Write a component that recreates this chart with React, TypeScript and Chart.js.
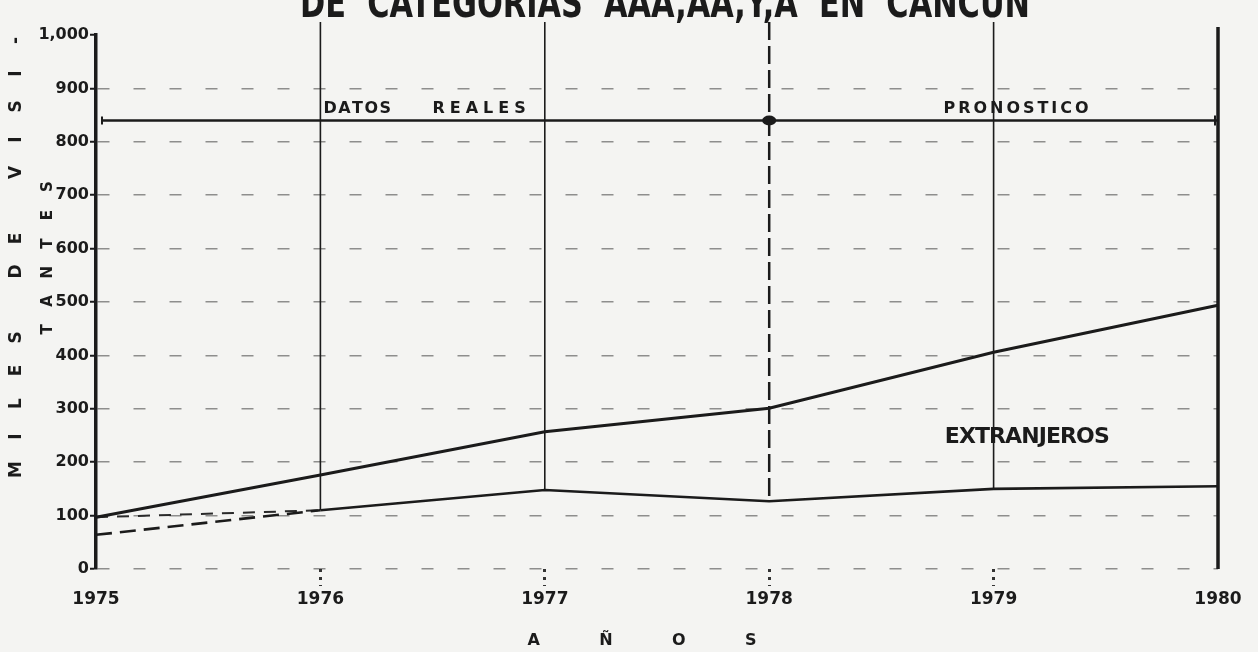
import React, { useEffect, useRef } from "react";
import { Chart, registerables } from "chart.js";

Chart.register(...registerables);

const years = ["1975", "1976", "1977", "1978", "1979", "1980"];
const totalVisitors = [97, 176, 257, 301, 406, 494];
const foreignVisitors = [64, 110, 148, 127, 150, 155];
const foreignAlt = [97, 110, null, null, null, null];
const yTicks = [0, 100, 200, 300, 400, 500, 600, 700, 800, 900, 1000];
const yTickLabels = ["0", "100", "200", "300", "400", "500", "600", "700", "800", "900", "1,000"];
const dividerValue = 840;
const titleText = "DE  CATEGORIAS  AAA,AA,Y,A  EN  CANCUN";
const yTitle1 = "MILES DE VISI-";
const yTitle2 = "TANTES";
const xTitle = "AÑOS";
const labelReal1 = "DATOS";
const labelReal2 = "REALES";
const labelForecast = "PRONOSTICO";
const labelSeries = "EXTRANJEROS";

const INK = "#1b1b1b";
const FONT = "'DejaVu Sans', sans-serif";

function drawFit(ctx: CanvasRenderingContext2D, text: string, cx: number, cy: number, width: number) {
  const chars = Array.from(text);
  const ws = chars.map((c) => ctx.measureText(c).width);
  const sum = ws.reduce((a, b) => a + b, 0);
  const sp = chars.length > 1 ? (width - sum) / (chars.length - 1) : 0;
  let x = cx - width / 2;
  ctx.textAlign = "left";
  chars.forEach((c, i) => {
    ctx.fillText(c, x, cy);
    x += ws[i] + sp;
  });
}

function drawScaled(ctx: CanvasRenderingContext2D, text: string, cx: number, cy: number, width: number) {
  const w = ctx.measureText(text).width;
  ctx.save();
  ctx.translate(cx, cy);
  ctx.scale(width / w, 1);
  ctx.textAlign = "center";
  ctx.fillText(text, 0, 0);
  ctx.restore();
}

function drawPitch(ctx: CanvasRenderingContext2D, text: string, cx: number, cy: number, pitch: number) {
  const chars = Array.from(text);
  const start = cx - ((chars.length - 1) * pitch) / 2;
  ctx.textAlign = "center";
  chars.forEach((c, i) => {
    if (c !== " ") ctx.fillText(c, start + i * pitch, cy);
  });
}

function drawSpacedLeft(ctx: CanvasRenderingContext2D, text: string, x0: number, cy: number, sp: number) {
  let x = x0;
  ctx.textAlign = "left";
  for (const c of Array.from(text)) {
    ctx.fillText(c, x, cy);
    x += ctx.measureText(c).width + sp;
  }
}

const decor = {
  id: "decor",
  beforeDatasetsDraw(chart: any) {
    const { ctx, chartArea, scales } = chart;
    const xs = scales.x;
    const ys = scales.y;
    ctx.save();
    // vertical drop lines
    for (let i = 1; i <= 4; i++) {
      const x = xs.getPixelForValue(i);
      ctx.beginPath();
      ctx.strokeStyle = INK;
      if (i === 3) {
        ctx.lineWidth = 2.5;
        ctx.setLineDash([18, 6]);
      } else {
        ctx.lineWidth = 1.6;
        ctx.setLineDash([]);
      }
      ctx.moveTo(x, chartArea.top - 13);
      ctx.lineTo(x, ys.getPixelForValue(foreignVisitors[i]));
      ctx.stroke();
    }
    ctx.setLineDash([]);
    // right border
    const xr = xs.getPixelForValue(5);
    ctx.beginPath();
    ctx.lineWidth = 3.5;
    ctx.moveTo(xr, chartArea.top - 8);
    ctx.lineTo(xr, chartArea.bottom);
    ctx.stroke();
    // divider line
    const yd = ys.getPixelForValue(dividerValue);
    const xl = xs.getPixelForValue(0) + 6;
    ctx.beginPath();
    ctx.lineWidth = 2.5;
    ctx.moveTo(xl, yd);
    ctx.lineTo(xr, yd);
    ctx.stroke();
    ctx.lineWidth = 2;
    ctx.beginPath();
    ctx.moveTo(xl, yd - 4);
    ctx.lineTo(xl, yd + 4);
    ctx.moveTo(xr - 3, yd - 5);
    ctx.lineTo(xr - 3, yd + 5);
    ctx.stroke();
    const xm = xs.getPixelForValue(3);
    ctx.fillStyle = INK;
    ctx.beginPath();
    ctx.ellipse(xm, yd, 7, 5, 0, 0, Math.PI * 2);
    ctx.fill();

    // annotation texts
    ctx.fillStyle = INK;
    ctx.textBaseline = "alphabetic";
    ctx.font = `bold 16px ${FONT}`;
    const x1 = xs.getPixelForValue(1);
    drawSpacedLeft(ctx, labelReal1, x1 + 3, yd - 7, 1.5);
    drawSpacedLeft(ctx, labelReal2, x1 + 112, yd - 7, 5);
    ctx.font = `bold 16px ${FONT}`;
    drawFit(ctx, labelForecast, xs.getPixelForValue(4.1), yd - 7, 145);
    ctx.font = `bold 22px ${FONT}`;
    ctx.textBaseline = "middle";
    drawFit(ctx, labelSeries, xs.getPixelForValue(4.15), ys.getPixelForValue(247), 165);

    // y-axis titles
    ctx.font = `bold 17px ${FONT}`;
    ctx.save();
    ctx.translate(17, 255);
    ctx.rotate(-Math.PI / 2);
    drawPitch(ctx, yTitle1, 0, 0, 33);
    ctx.restore();
    ctx.font = `bold 15px ${FONT}`;
    ctx.save();
    ctx.translate(48, 258);
    ctx.rotate(-Math.PI / 2);
    drawPitch(ctx, yTitle2, 0, 0, 28.6);
    ctx.restore();

    // x-axis title
    ctx.font = `bold 16px ${FONT}`;
    drawFit(ctx, xTitle, 642, 641, 229);

    // main title (cut off at top)
    ctx.font = `bold 40px ${FONT}`;
    ctx.textBaseline = "alphabetic";
    drawScaled(ctx, titleText, 665, 17, 730);
    ctx.restore();
  },
};

export default function App() {
  const ref = useRef<HTMLCanvasElement | null>(null);
  useEffect(() => {
    document.body.style.margin = "0";
    document.body.style.background = "#f4f4f2";
    const canvas = ref.current!;
    const chart = new Chart(canvas, {
      type: "line",
      data: {
        labels: years,
        datasets: [
          {
            label: "Total",
            data: totalVisitors,
            borderColor: INK,
            borderWidth: 3,
            pointRadius: 0,
            tension: 0,
          },
          {
            label: "Extranjeros",
            data: foreignVisitors,
            borderColor: INK,
            borderWidth: 2.6,
            pointRadius: 0,
            tension: 0,
            segment: {
              borderDash: (c: any) => (c.p0DataIndex === 0 ? [16, 8] : undefined),
            },
          },
          {
            label: "Extranjeros (alt)",
            data: foreignAlt,
            borderColor: "#2a2a2a",
            borderWidth: 2,
            borderDash: [12, 9],
            pointRadius: 0,
            tension: 0,
            spanGaps: false,
          },
        ],
      },
      options: {
        responsive: false,
        animation: false,
        layout: { padding: { top: 35, right: 40, left: 0, bottom: 0 } },
        plugins: { legend: { display: false }, tooltip: { enabled: false }, title: { display: false } },
        scales: {
          x: {
            type: "category",
            offset: false,
            afterFit: (s: any) => {
              s.height = 652 - 569;
            },
            grid: {
              drawOnChartArea: false,
              drawTicks: true,
              tickLength: 17,
              tickWidth: 3,
              tickBorderDash: [3, 5],
              tickColor: (c: any) => (c.index === 0 || c.index === 5 ? "rgba(0,0,0,0)" : "#333"),
            },
            border: { display: false },
            ticks: {
              color: INK,
              padding: 3,
              maxRotation: 0,
              font: { family: "'DejaVu Sans', sans-serif", weight: "bold", size: 17 },
            },
          },
          y: {
            min: 0,
            max: 1000,
            afterFit: (s: any) => {
              s.width = 96;
            },
            afterBuildTicks: (s: any) => {
              s.ticks = yTicks.map((v) => ({ value: v }));
            },
            grid: {
              color: (c: any) => (c.tick && c.tick.value === 1000 ? "rgba(0,0,0,0)" : "rgba(40,40,40,0.5)"),
              lineWidth: 1.5,
              drawTicks: true,
              tickLength: 6,
              tickWidth: 2,
              tickColor: INK,
              tickBorderDash: [],
            },
            border: { display: true, color: INK, width: 3.5, dash: [12, 24] },
            ticks: {
              color: INK,
              padding: 1,
              callback: (v: any) => {
                const i = yTicks.indexOf(Number(v));
                return i >= 0 ? yTickLabels[i] : "";
              },
              font: { family: "'DejaVu Sans', sans-serif", weight: "bold", size: 16 },
            },
          },
        },
      },
      plugins: [decor],
    } as any);
    return () => chart.destroy();
  }, []);
  return (
    <div style={{ width: 1258, height: 652 }}>
      <canvas ref={ref} width={1258} height={652} />
    </div>
  );
}
